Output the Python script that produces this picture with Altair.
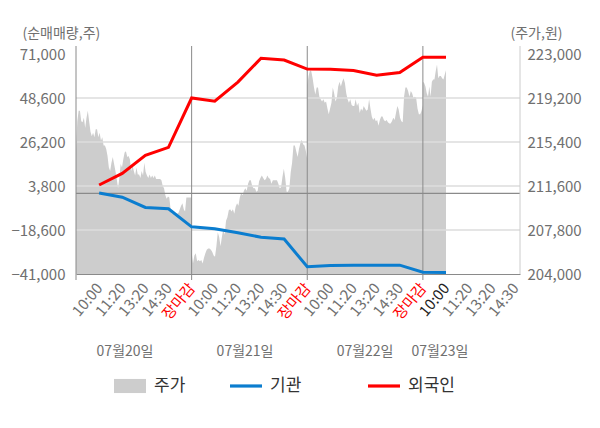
import pandas as pd
import altair as alt

FONT = "Noto Sans CJK KR"
W, H = 444, 220

# ---------------- data ----------------
slot_labels = ["10:00", "11:20", "13:20", "14:30", "장마감",
               "10:00", "11:20", "13:20", "14:30", "장마감",
               "10:00", "11:20", "13:20", "14:30", "장마감",
               "10:00", "11:20", "13:20", "14:30"]
x_max = 19.2
day_names = ["07월20일", "07월21일", "07월22일", "07월23일"]
day_name_pos = [2.12, 7.31, 12.5, 15.74]
day_bounds = [0, 5, 10, 15]

flow_slots = list(range(1, 17))
inst = [200, -1900, -7100, -7800, -17000, -18000, -20000, -22300,
        -23200, -37300, -36700, -36500, -36500, -36500, -40100, -40200]
foreign = [4300, 10200, 19400, 23500, 48600, 47000, 56700, 68800,
           67900, 63300, 63200, 62600, 60200, 61600, 69300, 69300]

left_ticks = [-41000, -18600, 3800, 26200, 48600, 71000]
right_ticks = [204000, 207800, 211600, 215400, 219200, 223000]

price_d1 = [214800, 217200, 218100, 218100, 217200, 217100, 217500, 216600, 217500, 218100,
            217200, 216300, 215900, 216200, 215800, 216500, 216500, 215800, 216200, 215500,
            215800, 215100, 215100, 214800, 214200, 213200, 212900, 213600, 214100, 213500,
            212900, 212200, 211400, 212300, 213500, 213200, 213900, 214500, 214600, 214100,
            214200, 213900, 212900, 213400, 212900, 212500, 213200, 212600, 212600, 212300,
            212900, 212500, 213600, 212800, 212500, 212300, 212600, 212300, 212500, 212300,
            212500, 212200, 212200, 212200, 212200, 212100, 211600, 211400, 210800, 210500,
            210700, 210600, 209600, 209200, 209200, 209400, 209100, 209200, 209300, 209600,
            209900, 210100, 209600, 209400, 210600, 210600, 210600, 210600, 210600]
price_d2 = [205900, 204900, 205600, 205800, 205100, 205200, 205100, 205200, 204900, 205400,
            205800, 206100, 206200, 206200, 206100, 205900, 205600, 205500, 206400, 207600,
            207200, 206400, 207200, 207900, 207400, 208600, 208900, 209500, 209600, 209400,
            209600, 209200, 209800, 210100, 209900, 210600, 211000, 210800, 211200, 211400,
            211200, 211800, 212100, 212100, 211600, 211400, 211400, 211100, 211200, 212000,
            212300, 212500, 212300, 212100, 212200, 212500, 212300, 212200, 211800, 212100,
            212100, 212100, 212100, 211800, 211400, 211500, 212400, 213100, 212300, 211100,
            211100, 211400, 212800, 213600, 215100, 215100, 214600, 214100, 214800, 215300,
            215600, 215200, 215100, 214600, 213900]
price_d3 = [220300, 221100, 221600, 221500, 220900, 220100, 219500, 220100, 220100, 219300,
            219100, 218900, 219100, 218800, 218900, 218300, 217800, 218300, 218800, 220100,
            219600, 218900, 219200, 220200, 220600, 220200, 220600, 220900, 220500, 219600,
            219100, 218800, 219100, 218600, 218500, 218500, 219100, 218500, 218800, 217900,
            218300, 218100, 218500, 218300, 218100, 218200, 219100, 218300, 217600, 217300,
            217500, 217200, 217300, 216800, 217300, 217600, 217600, 217300, 217200, 217300,
            217100, 217000, 217000, 217200, 217500, 217300, 217900, 218500, 218200, 217500,
            217200, 217100, 219300, 220100, 220100, 219800, 219300, 219800, 219600, 219200,
            219300, 219200, 218300, 217800, 217800, 218100, 218600]
price_d4 = [220600, 220500, 220200, 219600, 219300, 220200, 219300, 220600, 220800, 220800,
            221500, 222100, 220900, 221100, 221100, 220900, 220800, 221200, 221600]

legend_names = ["주가", "기관", "외국인"]

# ---------------- styles ----------------
GRAY_AREA = "#cdcdcd"
BLUE = "#0b7dcf"
RED = "#ff0000"
TXT = "#707070"

# ---------------- frames ----------------
price_days = [price_d1, price_d2, price_d3, price_d4]
day_span = [5, 5, 5, 1]
rows = []
for d, (vals, span) in enumerate(zip(price_days, day_span)):
    n = len(vals)
    for i, v in enumerate(vals):
        rows.append({"slot": 5 * d + span * i / (n - 1), "price": v})
price_df = pd.DataFrame(rows)

flow_df = pd.DataFrame({"slot": flow_slots, "inst": inst, "foreign": foreign})
grid_df = pd.DataFrame({"v": left_ticks[1:-1]})
zero_df = pd.DataFrame({"v": [0]})
bounds_df = pd.DataFrame({"slot": day_bounds})
days_df = pd.DataFrame({"pos": day_name_pos, "name": day_names})

# ---------------- scales / axes ----------------
xscale = alt.Scale(domain=[0, x_max], nice=False, zero=False)
yleft = alt.Scale(domain=[left_ticks[0], left_ticks[-1]], nice=False, zero=False)
yright = alt.Scale(domain=[right_ticks[0], right_ticks[-1]], nice=False, zero=False)

label_expr = "[" + ",".join("'%s'" % s for s in slot_labels) + "][datum.value - 1]"
x_axis = alt.Axis(
    values=list(range(1, len(slot_labels) + 1)), labelExpr=label_expr,
    labelAngle=-50, labelFontSize=15, labelFont=FONT,
    labelColor={"condition": [{"test": "datum.value % 5 === 0", "value": RED},
                              {"test": "datum.value === 16", "value": "#222222"}],
                "value": TXT},
    labelPadding=11, labelOverlap=False, labelFlush=False,
    ticks=False, tickSize=0, grid=False,
    domain=True, domainColor="#8a8a8a", domainWidth=1, title=None,
)
left_axis = alt.Axis(
    values=left_ticks, labelExpr="format(datum.value, ',')", orient="left",
    labelFontSize=15, labelColor=TXT, labelFont=FONT, labelPadding=11,
    ticks=False, tickSize=0, domain=False, grid=False,
    title="(순매매량,주)", titleAngle=0, titleAlign="left", titleBaseline="middle",
    titleX=-54, titleY=-21, titleFontSize=14, titleFontWeight="normal",
    titleColor=TXT, titleFont=FONT,
)
right_axis = alt.Axis(
    values=right_ticks, labelExpr="format(datum.value, ',')", orient="right",
    labelFontSize=15, labelColor=TXT, labelFont=FONT, labelPadding=7,
    ticks=False, tickSize=0, domain=False, grid=False,
    title="(주가,원)", titleAngle=0, titleAlign="right", titleBaseline="middle",
    titleX=42, titleY=-21, titleFontSize=14, titleFontWeight="normal",
    titleColor=TXT, titleFont=FONT,
)

X = alt.X("slot:Q", scale=xscale, axis=x_axis)

# ---------------- layers ----------------
price = alt.Chart(price_df).mark_area(color=GRAY_AREA, interpolate="linear").encode(
    x=X,
    y=alt.Y("price:Q", scale=yright, axis=right_axis),
    y2=alt.datum(right_ticks[0]),
)

grid = alt.Chart(grid_df).mark_rule(color="#dcdcdc", strokeWidth=1.5).encode(
    y=alt.Y("v:Q", scale=yleft, axis=left_axis)
)
zero = alt.Chart(zero_df).mark_rule(color="#8a8a8a", strokeWidth=1.2).encode(
    y=alt.Y("v:Q", scale=yleft, axis=left_axis)
)
bounds = alt.Chart(bounds_df).mark_rule(color="#8a8a8a", strokeWidth=1).encode(
    x=X, y=alt.value(-8), y2=alt.value(H + 6),
)
edge = alt.Chart(zero_df).mark_rule(color="#cccccc", strokeWidth=1).encode(
    x=alt.value(W), y=alt.value(-8), y2=alt.value(H),
)
inst_line = alt.Chart(flow_df).mark_line(color=BLUE, strokeWidth=3).encode(
    x=X, y=alt.Y("inst:Q", scale=yleft, axis=left_axis),
)
foreign_line = alt.Chart(flow_df).mark_line(color=RED, strokeWidth=3).encode(
    x=X, y=alt.Y("foreign:Q", scale=yleft, axis=left_axis),
)
days = alt.Chart(days_df).mark_text(font=FONT, fontSize=14, color=TXT).encode(
    x=alt.X("pos:Q", scale=xscale, axis=x_axis), y=alt.value(298), text="name:N",
)

inner = alt.layer(grid, zero, bounds, edge, inst_line, foreign_line, days)

# ---------------- legend (one legend per entry, placed side by side) ----------------
leg_x = [38, 154, 292]
leg_paths = ["M-1,-0.44H1V0.44H-1Z", "M-1,-0.1H1V0.1H-1Z", "M-1,-0.1H1V0.1H-1Z"]
leg_colors = [GRAY_AREA, BLUE, RED]
legend_layers = []
for name, lx, path, col in zip(legend_names, leg_x, leg_paths, leg_colors):
    lg = alt.Legend(
        title=None, orient="none", legendX=lx, legendY=316, direction="horizontal",
        symbolType=path, symbolSize=1024, symbolStrokeWidth=0,
        labelFontSize=17, labelColor="#333333", labelFont=FONT, labelOffset=8, padding=0,
    )
    legend_layers.append(
        alt.Chart(pd.DataFrame({"series": [name]})).transform_filter("false")
        .mark_point(filled=True, opacity=1)
        .encode(color=alt.Color("series:N",
                                scale=alt.Scale(domain=[name], range=[col]), legend=lg))
    )

chart = alt.layer(price, inner, *legend_layers).resolve_scale(
    y="independent", color="independent"
).properties(
    width=W, height=H,
    padding={"left": 68, "top": 46, "right": 70, "bottom": 140},
    autosize=alt.AutoSizeParams(type="none"),
).configure(font=FONT, background="white").configure_view(fill="#f4f4f4", stroke=None)

chart.save("out.html", embed_options={"renderer": "svg", "actions": False})
